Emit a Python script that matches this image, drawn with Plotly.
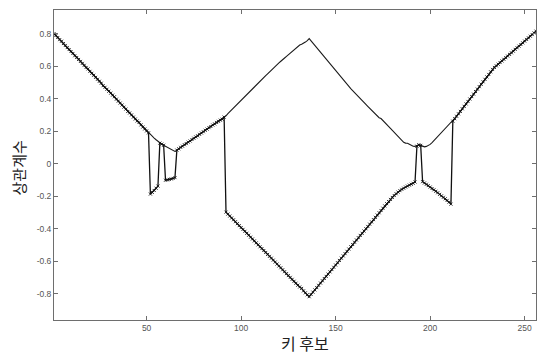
import plotly.graph_objects as go

# key candidates 1..256
key_candidates = list(range(1, 257))

# thin curve (upper envelope)
corr_envelope = [
    0.800, 0.788, 0.776, 0.763, 0.753, 0.739, 0.727, 0.714, 0.702, 0.690,
    0.678, 0.664, 0.653, 0.641, 0.629, 0.617, 0.605, 0.592, 0.583, 0.568,
    0.556, 0.544, 0.531, 0.519, 0.507, 0.495, 0.480, 0.470, 0.458, 0.446,
    0.434, 0.422, 0.412, 0.397, 0.385, 0.373, 0.361, 0.348, 0.336, 0.321,
    0.312, 0.300, 0.287, 0.275, 0.263, 0.254, 0.239, 0.226, 0.214, 0.202,
    0.190, 0.180, 0.170, 0.158, 0.148, 0.137, 0.127, 0.121, 0.114, 0.108,
    0.101, 0.095, 0.089, 0.082, 0.076, 0.084, 0.092, 0.101, 0.108, 0.117,
    0.124, 0.133, 0.140, 0.149, 0.157, 0.165, 0.172, 0.181, 0.189, 0.197,
    0.206, 0.213, 0.222, 0.229, 0.238, 0.245, 0.254, 0.261, 0.268, 0.274,
    0.287, 0.295, 0.308, 0.320, 0.331, 0.343, 0.355, 0.367, 0.378, 0.390,
    0.402, 0.413, 0.425, 0.434, 0.448, 0.460, 0.472, 0.484, 0.495, 0.507,
    0.518, 0.533, 0.542, 0.553, 0.565, 0.577, 0.588, 0.600, 0.610, 0.620,
    0.630, 0.643, 0.650, 0.660, 0.670, 0.680, 0.687, 0.700, 0.710, 0.720,
    0.730, 0.734, 0.744, 0.748, 0.757, 0.769, 0.755, 0.741, 0.727, 0.712,
    0.698, 0.684, 0.670, 0.655, 0.641, 0.627, 0.613, 0.598, 0.584, 0.570,
    0.556, 0.541, 0.527, 0.513, 0.498, 0.486, 0.474, 0.462, 0.450, 0.437,
    0.425, 0.413, 0.401, 0.389, 0.377, 0.365, 0.353, 0.341, 0.329, 0.316,
    0.304, 0.292, 0.283, 0.278, 0.267, 0.255, 0.242, 0.230, 0.217, 0.205,
    0.192, 0.180, 0.167, 0.155, 0.142, 0.132, 0.127, 0.126, 0.120, 0.113,
    0.108, 0.107, 0.112, 0.117, 0.113, 0.106, 0.104, 0.107, 0.112, 0.119,
    0.130, 0.142, 0.154, 0.166, 0.178, 0.190, 0.202, 0.214, 0.226, 0.238,
    0.250, 0.262, 0.277, 0.292, 0.307, 0.322, 0.338, 0.353, 0.368, 0.383,
    0.398, 0.413, 0.428, 0.444, 0.459, 0.474, 0.489, 0.504, 0.519, 0.534,
    0.549, 0.565, 0.580, 0.592, 0.602, 0.612, 0.622, 0.632, 0.642, 0.652,
    0.662, 0.672, 0.682, 0.692, 0.703, 0.713, 0.723, 0.733, 0.743, 0.754,
    0.764, 0.774, 0.784, 0.794, 0.804, 0.815,
]

# marked curve (signed correlation)
corr_signed = [
    0.800, 0.788, 0.776, 0.763, 0.753, 0.739, 0.727, 0.714, 0.702, 0.690,
    0.678, 0.664, 0.653, 0.641, 0.629, 0.617, 0.605, 0.592, 0.583, 0.568,
    0.556, 0.544, 0.531, 0.519, 0.507, 0.495, 0.480, 0.470, 0.458, 0.446,
    0.434, 0.422, 0.412, 0.397, 0.385, 0.373, 0.361, 0.348, 0.336, 0.321,
    0.312, 0.300, 0.287, 0.275, 0.263, 0.254, 0.239, 0.226, 0.214, 0.202,
    0.190, -0.186, -0.176, -0.164, -0.150, -0.137, 0.127, 0.121, 0.114, -0.101,
    -0.099, -0.096, -0.093, -0.090, -0.085, 0.084, 0.092, 0.101, 0.108, 0.117,
    0.124, 0.133, 0.140, 0.149, 0.157, 0.165, 0.172, 0.181, 0.189, 0.197,
    0.206, 0.213, 0.222, 0.229, 0.238, 0.245, 0.254, 0.261, 0.268, 0.274,
    0.287, -0.297, -0.309, -0.321, -0.333, -0.344, -0.356, -0.368, -0.380, -0.392,
    -0.403, -0.415, -0.427, -0.439, -0.451, -0.462, -0.474, -0.486, -0.498, -0.510,
    -0.521, -0.533, -0.545, -0.557, -0.569, -0.580, -0.592, -0.604, -0.616, -0.628,
    -0.639, -0.651, -0.663, -0.675, -0.687, -0.698, -0.710, -0.722, -0.734, -0.746,
    -0.757, -0.766, -0.781, -0.793, -0.805, -0.817, -0.803, -0.789, -0.775, -0.761,
    -0.747, -0.733, -0.719, -0.705, -0.692, -0.678, -0.664, -0.650, -0.636, -0.622,
    -0.608, -0.594, -0.580, -0.566, -0.552, -0.538, -0.524, -0.510, -0.496, -0.482,
    -0.468, -0.454, -0.440, -0.427, -0.413, -0.399, -0.385, -0.371, -0.357, -0.343,
    -0.329, -0.315, -0.301, -0.287, -0.273, -0.259, -0.245, -0.232, -0.219, -0.207,
    -0.195, -0.184, -0.174, -0.165, -0.157, -0.150, -0.143, -0.137, -0.131, -0.126,
    -0.120, -0.112, 0.108, 0.117, 0.113, -0.110, -0.118, -0.126, -0.134, -0.143,
    -0.152, -0.160, -0.169, -0.178, -0.188, -0.197, -0.206, -0.215, -0.225, -0.236,
    -0.248, 0.262, 0.277, 0.292, 0.307, 0.322, 0.338, 0.353, 0.368, 0.383,
    0.398, 0.413, 0.428, 0.444, 0.459, 0.474, 0.489, 0.504, 0.519, 0.534,
    0.549, 0.565, 0.580, 0.592, 0.602, 0.612, 0.622, 0.632, 0.642, 0.652,
    0.662, 0.672, 0.682, 0.692, 0.703, 0.713, 0.723, 0.733, 0.743, 0.754,
    0.764, 0.774, 0.784, 0.794, 0.804, 0.815,
]

x_ticks = [50, 100, 150, 200, 250]
y_ticks = [-0.8, -0.6, -0.4, -0.2, 0, 0.2, 0.4, 0.6, 0.8]
y_ticktext = ['-0.8', '-0.6', '-0.4', '-0.2', '0', '0.2', '0.4', '0.6', '0.8']

fig = go.Figure()
fig.add_trace(go.Scatter(x=key_candidates, y=corr_envelope, mode='lines',
                         line=dict(color='#1a1a1a', width=1.1), showlegend=False))
fig.add_trace(go.Scatter(x=key_candidates, y=corr_signed, mode='lines+markers',
                         line=dict(color='#111111', width=1.3),
                         marker=dict(symbol='x-thin', size=3, line=dict(color='#111111', width=0.9)),
                         showlegend=False))

axis_style = dict(showline=True, mirror='ticks', linecolor='#6e6e6e', linewidth=1,
                  ticks='inside', ticklen=4, tickcolor='#6e6e6e', showgrid=False,
                  zeroline=False, automargin=False,
                  tickfont=dict(family='Liberation Sans', size=8.5, color='#555555'))

fig.update_xaxes(range=[1, 256], tickvals=x_ticks, **axis_style)
fig.update_yaxes(range=[-0.96, 0.945], tickvals=y_ticks, ticktext=y_ticktext, **axis_style)

# axis titles placed as annotations
title_font = dict(family='Noto Sans CJK KR', size=16, color='#222222')
fig.add_annotation(text='키 후보', xref='paper', yref='paper', x=0.521, y=-0.074,
                   showarrow=False, font=title_font, xanchor='center', yanchor='middle')
fig.add_annotation(text='상관계수', xref='paper', yref='paper', x=-0.074, y=0.49,
                   showarrow=False, font=dict(title_font, size=15), textangle=-90,
                   xanchor='center', yanchor='middle')

fig.update_layout(width=539, height=354, margin=dict(l=54, r=3, t=10, b=34),
                  plot_bgcolor='white', paper_bgcolor='white')

# drop the default page margin so the figure fills the window exactly
fig.write_html("out.html", config={'displayModeBar': False},
               post_script="document.body.style.margin='0';document.body.style.overflow='hidden';")
